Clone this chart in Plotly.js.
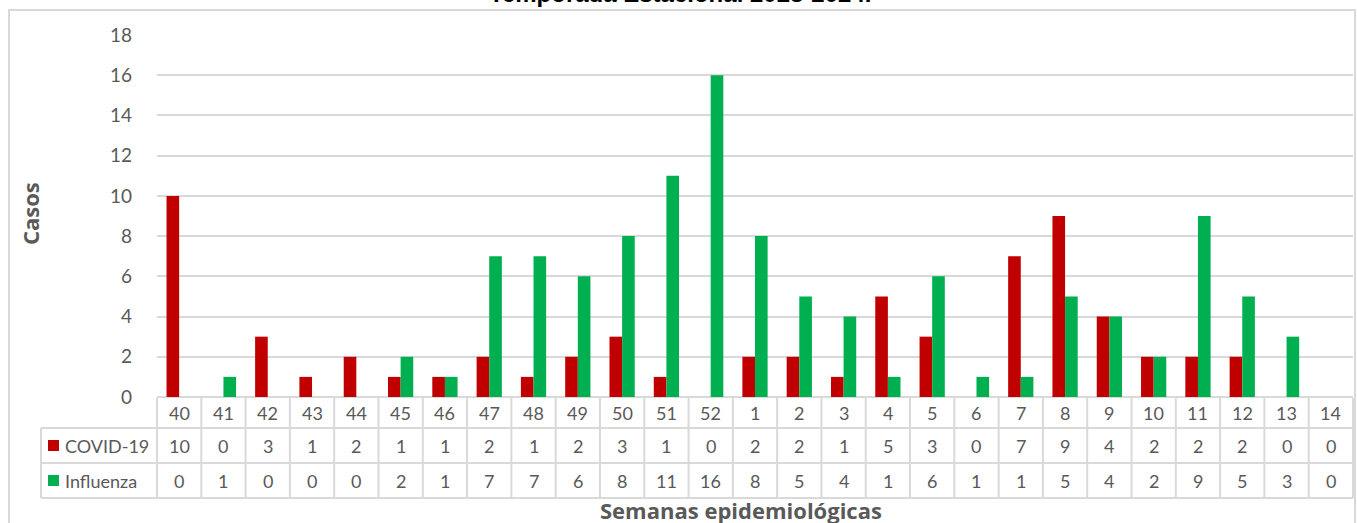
<!DOCTYPE html>
<html>
<head>
<meta charset="utf-8">
<script src="https://cdn.plot.ly/plotly-3.0.1.min.js"></script>
<style>html,body{margin:0;padding:0;background:#fff;}#chart{width:1357px;height:523px;}</style>
</head>
<body>
<div id="chart"></div>
<script>
const weeks = ['40','41','42','43','44','45','46','47','48','49','50','51','52','1','2','3','4','5','6','7','8','9','10','11','12','13','14'];
const covid = [10,0,3,1,2,1,1,2,1,2,3,1,0,2,2,1,5,3,0,7,9,4,2,2,2,0,0];
const influenza = [0,1,0,0,0,2,1,7,7,6,8,11,16,8,5,4,1,6,1,1,5,4,2,9,5,3,0];
const seriesNames = ['COVID-19','Influenza'];
const seriesColors = ['#C00000','#00B050'];
const yTicks = [0,2,4,6,8,10,12,14,16,18];

const W = 1357, H = 523;
const L = 157, R = 1353, T = 35, B = 397;
const pw = R - L, ph = B - T;
const px2x = p => (p - L) / pw;
const py2y = p => (B - p) / ph;
const gridColor = '#D9D9D9';
const txtColor = '#595959';
const font = 'Lato, "Open Sans", sans-serif';

const traces = [covid, influenza].map((vals, i) => ({
  type: 'bar', name: seriesNames[i], x: weeks, y: vals,
  marker: {color: seriesColors[i]}, hoverinfo: 'x+y+name'
}));

const shapes = [];
const annotations = [];
const n = weeks.length;
const rowY = [398, 428, 463, 498];
// outer chart border
shapes.push({type:'rect', xref:'paper', yref:'paper', x0:px2x(9), x1:px2x(1355), y0:py2y(545), y1:py2y(10), line:{color:gridColor, width:2}, layer:'below'});
// table vertical lines
for (let i = 0; i <= n; i++) {
  shapes.push({type:'line', xref:'paper', yref:'paper', x0:i/n, x1:i/n, y0:py2y(rowY[0]), y1:py2y(rowY[3]), line:{color:gridColor, width:2}});
}
shapes.push({type:'line', xref:'paper', yref:'paper', x0:px2x(41), x1:px2x(41), y0:py2y(rowY[1]), y1:py2y(rowY[3]), line:{color:gridColor, width:2}});
// table horizontal lines
for (let r = 1; r < rowY.length; r++) {
  shapes.push({type:'line', xref:'paper', yref:'paper', x0:px2x(41), x1:1, y0:py2y(rowY[r]), y1:py2y(rowY[r]), line:{color:gridColor, width:2}});
}
// category row (x given as category index)
weeks.forEach((w, i) => {
  annotations.push({xref:'x', yref:'paper', x:i, y:py2y((rowY[0]+rowY[1])/2), text:w, showarrow:false, xanchor:'center', yanchor:'middle', font:{size:18, color:txtColor, family:font}});
});
// series rows
[covid, influenza].forEach((vals, s) => {
  const cy = (rowY[s+1] + rowY[s+2]) / 2;
  vals.forEach((v, i) => {
    annotations.push({xref:'x', yref:'paper', x:i, y:py2y(cy), text:String(v), showarrow:false, xanchor:'center', yanchor:'middle', font:{size:18, color:txtColor, family:font}});
  });
  shapes.push({type:'rect', xref:'paper', yref:'paper', x0:px2x(48), x1:px2x(59), y0:py2y(cy+5.5), y1:py2y(cy-5.5), fillcolor:seriesColors[s], line:{width:0}});
  annotations.push({xref:'paper', yref:'paper', x:px2x(63), y:py2y(cy), text:seriesNames[s], showarrow:false, xanchor:'left', yanchor:'middle', font:{size:18, color:txtColor, family:font}});
});
// axis titles
annotations.push({xref:'paper', yref:'paper', x:px2x(30), y:py2y(214), text:'<b>Casos</b>', textangle:-90, showarrow:false, xanchor:'center', yanchor:'middle', font:{size:22, color:txtColor, family:'"Open Sans", sans-serif'}});
annotations.push({xref:'paper', yref:'paper', x:px2x(741), y:py2y(510), text:'<b>Semanas epidemiológicas</b>', showarrow:false, xanchor:'center', yanchor:'middle', font:{size:22, color:txtColor, family:'"Open Sans", sans-serif'}});
// chart title (cropped at top, as in the reference)
annotations.push({xref:'paper', yref:'paper', x:px2x(680), y:py2y(-6), text:'<b>Temporada Estacional 2023-2024.</b>', showarrow:false, xanchor:'center', yanchor:'middle', font:{size:24, color:'#000', family:'"Liberation Sans", Arial, sans-serif'}});

const layout = {
  width: W, height: H,
  margin: {l: L, r: W - R, t: T, b: H - B},
  paper_bgcolor: '#fff', plot_bgcolor: '#fff',
  barmode: 'group', bargap: 0.43, bargroupgap: 0,
  showlegend: false,
  xaxis: {type:'category', categoryorder:'array', categoryarray:weeks, range:[-0.5, n-0.5], showticklabels:false, showgrid:false, zeroline:false, showline:false, ticks:''},
  yaxis: {range:[0,18], tickvals:yTicks, ticktext:yTicks.map(String), showgrid:true, gridcolor:gridColor, gridwidth:2, zeroline:true, zerolinecolor:gridColor, zerolinewidth:2, showline:false, ticks:'', ticklabelstandoff:24, tickfont:{size:19, color:txtColor, family:font}},
  shapes: shapes,
  annotations: annotations
};
Plotly.newPlot('chart', traces, layout, {displayModeBar:false, staticPlot:true});
</script>
</body>
</html>
